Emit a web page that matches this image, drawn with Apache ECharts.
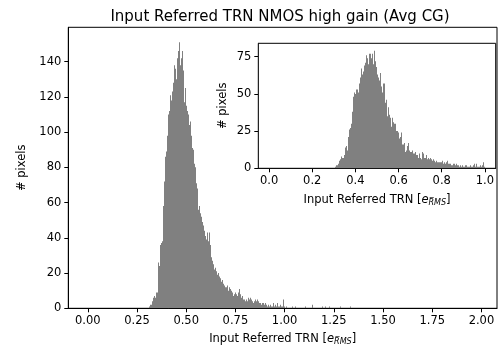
<!DOCTYPE html>
<html>
<head>
<meta charset="utf-8">
<script src="https://cdn.jsdelivr.net/npm/echarts@6/dist/echarts.min.js"></script>
<style>
  html, body { margin: 0; padding: 0; background: #fff; }
  #chart { width: 498px; height: 354px; }
</style>
</head>
<body>
<div id="chart"></div>
<script>
// histogram bins, width 0.005, main mass starts at 0.300
const binWidth = 0.005
const mainStart = 0.300
const mainCounts = [
  0, 0, 1, 2, 2, 4, 6, 7, 6, 9,
  9, 26, 24, 36, 37, 38, 58, 72, 86, 89,
  98, 97, 110, 112, 121, 118, 123, 128, 138, 136,
  130, 142, 146, 151, 138, 142, 146, 135, 117, 125,
  115, 112, 110, 104, 106, 98, 91, 90, 82, 80,
  71, 68, 56, 58, 54, 52, 49, 47, 44, 41,
  39, 43, 38, 43, 36, 29, 27, 25, 22, 23,
  21, 19, 20, 18, 17, 15, 16, 14, 13, 12,
  12, 13, 10, 12, 11, 9, 10, 9, 7, 8,
  9, 8, 7, 9, 11, 8, 6, 7, 5, 5,
  4, 5, 4, 6, 5, 6, 5, 4, 3, 4,
  5, 4, 5, 4, 3, 3, 2, 3, 3, 2,
  3, 2, 1, 2, 1, 2, 1, 1, 3, 1,
  2, 1, 3, 1, 1, 2, 1, 1, 5, 1
]
// sparse tail above 1.0 (bin left edge, count)
const mainTailEdges = [1.005, 1.040, 1.055, 1.105, 1.140, 1.190, 1.205, 1.225, 1.280, 1.330]
const mainTailCounts = [1, 1, 1, 1, 2, 1, 1, 1, 1, 1]

// inset: same bin width, values 0..1
const insetStart = 0.300
const insetCounts = [
  0, 1, 2, 2, 3, 5, 6, 8, 7, 9,
  14, 15, 12, 21, 26, 27, 30, 38, 48, 51,
  50, 53, 51, 57, 61, 67, 63, 65, 69, 71,
  76, 74, 70, 77, 74, 77, 70, 79, 72, 68,
  63, 61, 59, 64, 55, 51, 57, 44, 46, 35,
  41, 36, 34, 28, 34, 31, 30, 30, 25, 24,
  20, 21, 24, 16, 16, 17, 11, 12, 15, 17,
  12, 11, 12, 10, 10, 11, 9, 9, 7, 10,
  7, 6, 11, 10, 7, 9, 6, 7, 6, 7,
  6, 5, 6, 5, 4, 5, 4, 4, 4, 4,
  5, 3, 4, 3, 4, 5, 3, 3, 3, 2,
  3, 3, 2, 3, 2, 2, 1, 2, 1, 2,
  1, 1, 2, 1, 1, 1, 2, 1, 1, 2,
  3, 1, 3, 1, 1, 2, 1, 2, 4, 1
]

const mainXTicks = [0, 0.25, 0.5, 0.75, 1.0, 1.25, 1.5, 1.75, 2.0]
const mainYTicks = [0, 20, 40, 60, 80, 100, 120, 140]
const insetXTicks = [0, 0.2, 0.4, 0.6, 0.8, 1.0]
const insetYTicks = [0, 25, 50, 75]

const titleText = 'Input Referred TRN NMOS high gain (Avg CG)'
const xName = 'Input Referred TRN [{it|e}{sub|R\u0305MS}]'
const yName = '# pixels'

function toBins(start, counts) {
  let out = []
  for (let i = 0; i < counts.length; i++) {
    let x0 = +(start + i * binWidth).toFixed(4)
    out.push([x0, +(x0 + binWidth).toFixed(4), counts[i]])
  }
  return out
}

let mainData = toBins(mainStart, mainCounts)
for (let i = 0; i < mainTailEdges.length; i++) {
  mainData.push([mainTailEdges[i], +(mainTailEdges[i] + binWidth).toFixed(4), mainTailCounts[i]])
}
let insetData = toBins(insetStart, insetCounts)

// snap bars to whole pixels so neighbouring bins don't leave light seams
function renderBar(params, api) {
  let p0 = api.coord([api.value(0), 0])
  let p1 = api.coord([api.value(1), api.value(2)])
  let x0 = Math.round(p0[0])
  let x1 = Math.max(x0 + 1, Math.round(p1[0]))
  return {
    type: 'rect',
    shape: {x: x0, y: p1[1], width: x1 - x0, height: p0[1] - p1[1]},
    style: {fill: '#808080'}
  }
}

const font = 'DejaVu Sans'
const nameRich = {
  it: {fontFamily: font, fontStyle: 'italic', fontSize: 11.5, color: '#000'},
  sub: {fontFamily: font, fontStyle: 'italic', fontSize: 8, color: '#000', padding: [6, 0, 0, 0]}
}

function xAxisOpt(idx, min, max, ticks, digits, gap) {
  return {
    type: 'value', gridIndex: idx, min: min, max: max,
    splitLine: {show: false},
    axisLine: {show: true, onZero: false, lineStyle: {color: '#000', width: 1}},
    axisTick: {show: true, inside: false, length: 4, customValues: ticks, lineStyle: {color: '#000'}},
    axisLabel: {
      customValues: ticks, margin: 7, color: '#000', fontFamily: font, fontSize: 11.5,
      formatter: function (v) { return v.toFixed(digits) }
    },
    name: xName, nameLocation: 'middle', nameGap: gap,
    nameTextStyle: {fontFamily: font, fontSize: 11.5, color: '#000', rich: nameRich}
  }
}

function yAxisOpt(idx, max, ticks, gap) {
  return {
    type: 'value', gridIndex: idx, min: 0, max: max,
    splitLine: {show: false},
    axisLine: {show: true, onZero: false, lineStyle: {color: '#000', width: 1}},
    axisTick: {show: true, inside: false, length: 4, customValues: ticks, lineStyle: {color: '#000'}},
    axisLabel: {customValues: ticks, margin: 7, color: '#000', fontFamily: font, fontSize: 11.5},
    name: yName, nameLocation: 'middle', nameGap: gap,
    nameTextStyle: {fontFamily: font, fontSize: 11.5, color: '#000'}
  }
}

let myChart = echarts.init(document.getElementById('chart'), null, {renderer: 'canvas'})
let option = {
  animation: false,
  backgroundColor: '#fff',
  title: {
    text: titleText, left: 275, top: 5, textAlign: 'center',
    textStyle: {fontFamily: font, fontSize: 15, fontWeight: 'normal', color: '#000'}
  },
  grid: [
    {left: 68.3, right: 1, top: 27.3, bottom: 45.7, show: true, borderColor: '#000', borderWidth: 1, backgroundColor: 'transparent'},
    {left: 258.3, right: 2.3, top: 43.3, bottom: 185.7, show: true, borderColor: '#000', borderWidth: 1, backgroundColor: '#fff', z: 5}
  ],
  xAxis: [
    xAxisOpt(0, -0.099, 2.079, mainXTicks, 2, 24),
    xAxisOpt(1, -0.05, 1.05, insetXTicks, 1, 25)
  ],
  yAxis: [
    yAxisOpt(0, 159.5, mainYTicks, 36),
    yAxisOpt(1, 84, insetYTicks, 29)
  ],
  series: [
    {
      type: 'custom', xAxisIndex: 0, yAxisIndex: 0, renderItem: renderBar,
      encode: {x: [0, 1], y: 2}, data: mainData, clip: true, silent: true
    },
    {
      type: 'custom', xAxisIndex: 1, yAxisIndex: 1, renderItem: renderBar,
      encode: {x: [0, 1], y: 2}, data: insetData, clip: true, silent: true, z: 6
    }
  ]
}
myChart.setOption(option)
</script>
</body>
</html>
